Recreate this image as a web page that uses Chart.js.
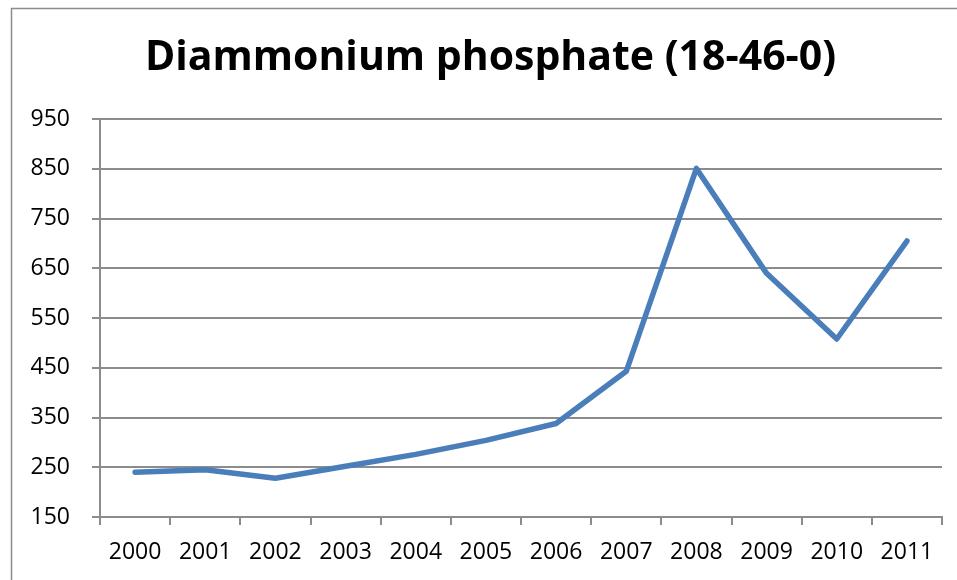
<!DOCTYPE html>
<html lang="en">

<head>
    <meta charset="UTF-8">
    <title>Diammonium phosphate (18-46-0)</title>
    <style>
        html, body { margin: 0; padding: 0; background: #fff; }
        #myChart { display: block; }
    </style>
</head>

<body>
    <canvas id="myChart" width="957" height="580"></canvas>

    <script src="https://cdn.jsdelivr.net/npm/chart.js"></script>
    <script>
        // data
        const years = ['2000', '2001', '2002', '2003', '2004', '2005', '2006', '2007', '2008', '2009', '2010', '2011'];
        const prices = [240, 245, 228, 252, 276, 304, 338, 443, 851, 640, 508, 705];
        const yMin = 150;
        const yMax = 950;
        const yStep = 100;

        const gridColor = '#8c8c8c';

        // outer frame of the chart (top and left edge only)
        const framePlugin = {
            id: 'frame',
            afterLayout: (chart) => {
                // centre the title over the plot area, like the original
                if (chart.titleBlock) {
                    chart.titleBlock.left = 39;
                    chart.titleBlock.right = chart.chartArea.right;
                    chart.titleBlock.width = chart.titleBlock.right - chart.titleBlock.left;
                }
            },
            beforeDraw: (chart) => {
                const { ctx } = chart;
                ctx.save();
                ctx.strokeStyle = '#8c8c8c';
                ctx.lineWidth = 1.5;
                ctx.beginPath();
                ctx.moveTo(11.5, 580);
                ctx.lineTo(11.5, 8.5);
                ctx.lineTo(957, 8.5);
                ctx.stroke();
                ctx.restore();
            }
        };

        let ctx = document.getElementById('myChart').getContext('2d');
        let myChart = new Chart(ctx, {
            type: 'line',
            data: {
                labels: years,
                datasets: [{
                    data: prices,
                    borderColor: '#4a7ebb',
                    borderWidth: 5.5,
                    borderCapStyle: 'round',
                    borderJoinStyle: 'round',
                    pointRadius: 0,
                    tension: 0,
                    fill: false
                }]
            },
            options: {
                responsive: false,
                animation: false,
                devicePixelRatio: 1,
                layout: {
                    padding: { left: 14, right: 15, top: 0, bottom: 0 }
                },
                plugins: {
                    legend: { display: false },
                    tooltip: { enabled: false },
                    title: {
                        display: true,
                        text: 'Diammonium phosphate (18-46-0)',
                        color: '#000',
                        font: { family: 'Open Sans', size: 41, weight: 'bold', lineHeight: 1.2 },
                        padding: { top: 34, bottom: 36 }
                    }
                },
                scales: {
                    x: {
                        offset: true,
                        grid: {
                            offset: true,
                            drawOnChartArea: false,
                            drawTicks: true,
                            tickLength: 8,
                            color: gridColor,
                            lineWidth: 2
                        },
                        border: { color: gridColor, width: 2 },
                        ticks: {
                            color: '#000',
                            padding: 14,
                            maxRotation: 0,
                            autoSkip: false,
                            font: { family: 'Open Sans', size: 23 }
                        },
                        afterFit: (scale) => { scale.height = 63; }
                    },
                    y: {
                        min: yMin,
                        max: yMax,
                        grid: {
                            color: gridColor,
                            lineWidth: 2,
                            tickLength: 8
                        },
                        border: { color: gridColor, width: 2 },
                        ticks: {
                            stepSize: yStep,
                            color: '#000',
                            padding: 22,
                            font: { family: 'Open Sans', size: 23 }
                        },
                        afterFit: (scale) => { scale.width = 86; }
                    }
                }
            },
            plugins: [framePlugin]
        });
    </script>
</body>

</html>
